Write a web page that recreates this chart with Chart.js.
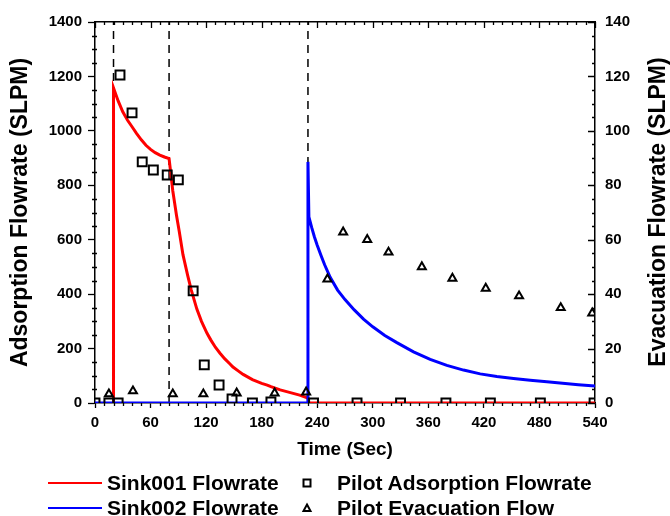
<!DOCTYPE html>
<html>
<head>
<meta charset="utf-8">
<script src="https://cdn.jsdelivr.net/npm/chart.js@4.4.1/dist/chart.umd.min.js"></script>
<style>
  body { margin: 0; background: #fff; }
  #wrap { position: relative; width: 670px; height: 516px; font-family: "Liberation Sans", Arial, sans-serif; }
  #legend { position: absolute; left: 0; top: 0; width: 670px; height: 516px; pointer-events: none; }
  .lg { position: absolute; font-size: 21px; font-weight: bold; color: #000; line-height: 24px; white-space: nowrap; }
  .ln { position: absolute; height: 2px; width: 54px; left: 48px; }
  .mk { position: absolute; }
  #rtitle { position: absolute; left: 657px; top: 212px; transform: translate(-50%, -50%) rotate(-90deg);
            font-size: 23px; font-weight: bold; color: #000; white-space: nowrap; line-height: 26px; }
</style>
</head>
<body>
<div id="wrap">
  <canvas id="myChart" width="670" height="516"></canvas>
  <div id="legend"></div>
  <div id="rtitle">Evacuation Flowrate (SLPM)</div>
</div>
<script>
// Sink001 model (left axis, SLPM)
let sink001Time = [20, 20, 25, 30, 35, 40, 45, 50, 55, 60, 65, 70, 75, 80, 82, 84, 86, 88, 91, 95, 100, 104, 110, 115, 121, 125, 130, 135, 140, 145, 149, 155, 160, 170, 180, 186, 190, 200, 210, 221, 230, 231, 540]
let sink001Flow = [0, 1158, 1110, 1070, 1040, 1015, 990, 967, 947, 932, 920, 911, 904, 898, 840, 780, 735, 690, 630, 545, 470, 415, 345, 300, 256, 232, 205, 183, 163, 146, 132, 117, 105, 86, 72, 66, 60, 48, 39, 29, 18, 0, 0]

// Sink002 model (left axis, SLPM)
let sink002Time = [0, 230, 230, 231, 234, 237, 240, 244, 248, 254, 262, 270, 280, 290, 300, 313, 326, 344, 362, 380, 398, 416, 434, 452, 470, 488, 505, 522, 540]
let sink002Flow = [0, 0, 886, 684, 645, 610, 580, 543, 508, 462, 415, 380, 342, 308, 280, 248, 222, 188, 160, 138, 121, 107, 97, 90, 84, 78, 73, 67, 62]

// pilot measurements
let pilotAdsTime = [0, 15, 25, 27, 40, 51, 63, 78, 90, 106, 118, 134, 148, 170, 190, 236, 283, 330, 379, 427, 481, 539]
let pilotAdsFlow = [0, 0, 0, 1205, 1066, 886, 856, 838, 820, 412, 140, 66, 15, 0, 4, 0, 0, 0, 0, 0, 0, 0]
let pilotEvacTime = [15, 41, 84, 117, 153, 194, 228, 251, 268, 294, 317, 353, 386, 422, 458, 503, 537]
let pilotEvacFlow = [3.3, 4.4, 3.3, 3.3, 3.6, 3.6, 4, 45.5, 62.8, 60, 55.4, 50, 45.8, 42.1, 39.3, 35, 33]

// dashed switch lines
let switchTimes = [20, 80, 230]

let xTicks = [0, 540, 60]
let yLeftTicks = [0, 1400, 200]
let yRightTicks = [0, 140, 20]

const FONT = '"Liberation Sans", Arial, sans-serif'

function pares(t, v) {
  let out = []
  for (let i = 0; i < t.length; i++) out.push({ x: t[i], y: v[i] })
  return out
}

let datasets = [
  {
    label: 'Pilot Adsorption Flowrate', data: pares(pilotAdsTime, pilotAdsFlow), yAxisID: 'y',
    showLine: false, pointStyle: 'rect', pointRadius: 6.3, borderColor: '#000', borderWidth: 2,
    pointBackgroundColor: 'rgba(255,255,255,0)', order: 0
  },
  {
    label: 'Pilot Evacuation Flow', data: pares(pilotEvacTime, pilotEvacFlow), yAxisID: 'y2',
    showLine: false, pointStyle: 'triangle', pointRadius: 4.6, borderColor: '#000', borderWidth: 2,
    pointBackgroundColor: 'rgba(255,255,255,0)', order: 0
  },
  {
    label: 'Sink002 Flowrate', data: pares(sink002Time, sink002Flow), yAxisID: 'y',
    showLine: true, borderColor: '#0000ff', borderWidth: 3, pointRadius: 0, order: 1
  },
  {
    label: 'Sink001 Flowrate', data: pares(sink001Time, sink001Flow), yAxisID: 'y',
    showLine: true, borderColor: '#ff0000', borderWidth: 3, pointRadius: 0, order: 2
  }
]

switchTimes.forEach(function (t) {
  datasets.push({
    label: 'switch', data: [{ x: t, y: yLeftTicks[0] }, { x: t, y: yLeftTicks[1] }], yAxisID: 'y',
    showLine: true, borderColor: '#000', borderWidth: 1.5, borderDash: [8, 6], pointRadius: 0, order: 3
  })
})

// minor ticks and inward ticks on top / right, like the origin style frame
const marcas = {
  id: 'marcas',
  afterDraw(chart) {
    const ctx = chart.ctx, a = chart.chartArea
    const sx = chart.scales.x, sy = chart.scales.y, sy2 = chart.scales.y2
    ctx.save()
    ctx.strokeStyle = '#000'
    ctx.lineWidth = 1.3
    ctx.beginPath()
    for (let t = xTicks[0]; t <= xTicks[1]; t += 10) {
      const px = Math.round(sx.getPixelForValue(t)) + 0.5
      const big = t % xTicks[2] === 0
      if (!big) { ctx.moveTo(px, a.bottom); ctx.lineTo(px, a.bottom + 3) }
      ctx.moveTo(px, a.top); ctx.lineTo(px, a.top + (big ? 6 : 3))
    }
    for (let v = yLeftTicks[0]; v <= yLeftTicks[1]; v += 50) {
      const py = Math.round(sy.getPixelForValue(v)) + 0.5
      if (v % yLeftTicks[2] !== 0) { ctx.moveTo(a.left - 3, py); ctx.lineTo(a.left + 2, py) }
    }
    for (let v = yRightTicks[0]; v <= yRightTicks[1]; v += 5) {
      const py = Math.round(sy2.getPixelForValue(v)) + 0.5
      const big = v % yRightTicks[2] === 0
      ctx.moveTo(a.right, py); ctx.lineTo(a.right - (big ? 7 : 3), py)
    }
    ctx.stroke()
    ctx.restore()
  }
}

const tickFont = { family: FONT, size: 15, weight: 'bold' }
const sinComa = function (v) { return String(v) }

const config = {
  type: 'scatter',
  data: { datasets: datasets },
  options: {
    responsive: false,
    animation: false,
    devicePixelRatio: 1,
    layout: { padding: { left: 0, right: 0, top: 0, bottom: 54 } },
    plugins: { legend: { display: false }, tooltip: { enabled: false } },
    scales: {
      x: {
        type: 'linear', position: 'bottom', min: xTicks[0], max: xTicks[1],
        ticks: { stepSize: xTicks[2], color: '#000', font: tickFont, padding: 6, maxRotation: 0, callback: sinComa },
        grid: { drawOnChartArea: false, tickLength: 5, color: '#000', tickWidth: 1.3 },
        border: { color: '#000', width: 1.5 },
        title: { display: true, text: 'Time (Sec)', color: '#000', font: { family: FONT, size: 19, weight: 'bold' }, padding: { top: 4, bottom: 1 } },
        afterFit(s) { s.height = 59 }
      },
      x2: {
        type: 'linear', position: 'top', min: xTicks[0], max: xTicks[1],
        ticks: { display: false },
        grid: { drawOnChartArea: false, drawTicks: false },
        border: { color: '#000', width: 1.5 },
        afterFit(s) { s.height = 22 }
      },
      y: {
        type: 'linear', position: 'left', min: yLeftTicks[0], max: yLeftTicks[1],
        ticks: { stepSize: yLeftTicks[2], color: '#000', font: tickFont, padding: 6, callback: sinComa },
        grid: { drawOnChartArea: false, tickLength: 7, color: '#000', tickWidth: 1.3 },
        border: { color: '#000', width: 1.5 },
        title: { display: true, text: 'Adsorption Flowrate (SLPM)', color: '#000', font: { family: FONT, size: 23, weight: 'bold' }, padding: { top: 7, bottom: 0 } },
        afterFit(s) { s.width = 95 }
      },
      y2: {
        type: 'linear', position: 'right', min: yRightTicks[0], max: yRightTicks[1],
        ticks: { stepSize: yRightTicks[2], color: '#000', font: tickFont, padding: 10, callback: sinComa },
        grid: { drawOnChartArea: false, drawTicks: false },
        border: { color: '#000', width: 1.5 },
        afterFit(s) { s.width = 75 }
      }
    }
  },
  plugins: [marcas]
}

const myChart = new Chart(document.getElementById('myChart'), config)

// legend, two rows x two columns like the original figure
let leyenda = [
  { text: 'Sink001 Flowrate', kind: 'line', color: '#ff0000', col: 0, row: 0 },
  { text: 'Pilot Adsorption Flowrate', kind: 'square', col: 1, row: 0 },
  { text: 'Sink002 Flowrate', kind: 'line', color: '#0000ff', col: 0, row: 1 },
  { text: 'Pilot Evacuation Flow', kind: 'triangle', col: 1, row: 1 }
]
let rowY = [483, 508]
let colText = [107, 337]
let box = document.getElementById('legend')
leyenda.forEach(function (it) {
  let cy = rowY[it.row]
  if (it.kind === 'line') {
    let l = document.createElement('div')
    l.className = 'ln'
    l.style.top = (cy - 1) + 'px'
    l.style.background = it.color
    box.appendChild(l)
  } else {
    let svg = '<svg width="14" height="14" viewBox="0 0 14 14">' +
      (it.kind === 'square'
        ? '<rect x="3.5" y="3.5" width="7" height="7" fill="none" stroke="#000" stroke-width="2"/>'
        : '<polygon points="7,3.5 10.5,10 3.5,10" fill="none" stroke="#000" stroke-width="2"/>') + '</svg>'
    let m = document.createElement('div')
    m.className = 'mk'
    m.style.left = (307 - 7) + 'px'
    m.style.top = (cy - 7) + 'px'
    m.innerHTML = svg
    box.appendChild(m)
  }
  let t = document.createElement('div')
  t.className = 'lg'
  t.textContent = it.text
  t.style.left = colText[it.col] + 'px'
  t.style.top = (cy - 12) + 'px'
  box.appendChild(t)
})
</script>
</body>
</html>
